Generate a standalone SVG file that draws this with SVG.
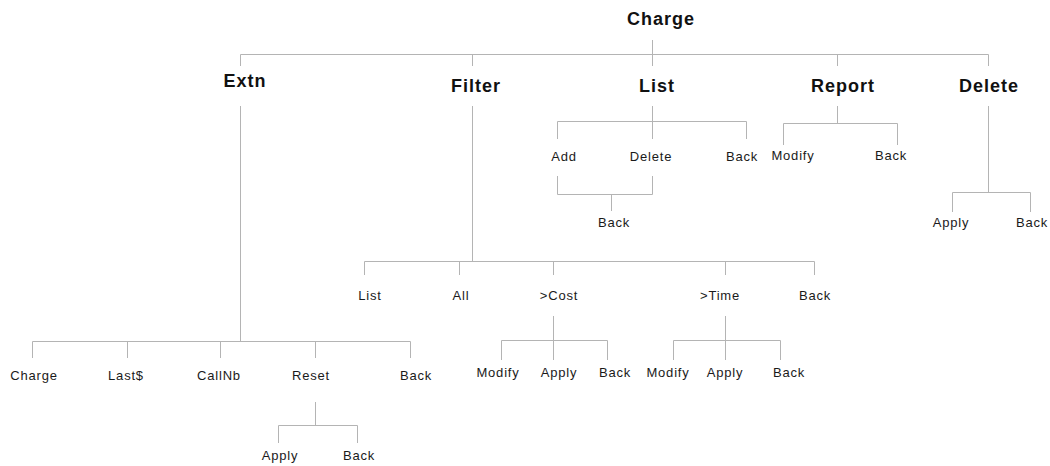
<svg xmlns="http://www.w3.org/2000/svg" width="1050" height="466" viewBox="0 0 1050 466">
  <style>
    .bg { fill: #ffffff; }
    .wire { stroke: #b4b4b4; stroke-width: 1; fill: none; }
    .head { font-family: "Liberation Sans", Arial, sans-serif; font-weight: bold; font-size: 18px; letter-spacing: 1px; fill: #111; text-anchor: middle; }
    .item { font-family: "Liberation Sans", Arial, sans-serif; font-size: 13px; letter-spacing: 0.8px; fill: #1a1a1a; text-anchor: middle; }
  </style>
  <rect class="bg" x="0" y="0" width="1050" height="466"/>

  <!-- connectors: menu tree -->
  <g id="connectors" class="wire">
    <!-- root -->
    <path d="M652.5 40 V54.5 M240.5 54.5 H988.5 M240.5 54.5 V66 M472.5 54.5 V66 M652.5 54.5 V66 M837.5 54.5 V66 M988.5 54.5 V66"/>
    <!-- Extn -->
    <path d="M240.5 106 V341.5 M32.5 341.5 H410.5 M32.5 341.5 V358 M127.5 341.5 V358 M220.5 341.5 V358 M315.5 341.5 V358 M410.5 341.5 V358"/>
    <!-- Reset -->
    <path d="M315.5 402 V425.5 M278.5 425.5 H357.5 M278.5 425.5 V443 M357.5 425.5 V443"/>
    <!-- Filter -->
    <path d="M472.5 106 V261.5 M364.5 261.5 H814.5 M364.5 261.5 V275 M459.5 261.5 V275 M553.5 261.5 V275 M725.5 261.5 V275 M814.5 261.5 V275"/>
    <!-- >Cost -->
    <path d="M553.5 316 V360 M501.5 340.5 H607.5 M501.5 340.5 V360 M607.5 340.5 V360"/>
    <!-- >Time -->
    <path d="M725.5 316 V360 M673.5 340.5 H780.5 M673.5 340.5 V360 M780.5 340.5 V360"/>
    <!-- List -->
    <path d="M652.5 106 V139 M557.5 121.5 H746.5 M557.5 121.5 V139 M746.5 121.5 V139"/>
    <path d="M557.5 176 V194.5 M652.5 176 V194.5 M557.5 194.5 H652.5 M611.5 194.5 V211"/>
    <!-- Report -->
    <path d="M837.5 106 V123.5 M783.5 123.5 H897.5 M783.5 123.5 V145 M897.5 123.5 V145"/>
    <!-- Delete -->
    <path d="M988.5 106 V192.5 M952.5 192.5 H1030.5 M952.5 192.5 V212 M1030.5 192.5 V212"/>
  </g>

  <!-- top level -->
  <g id="n-charge"><text class="head" x="661" y="25">Charge</text></g>
  <g id="n-extn"><text class="head" x="245" y="87">Extn</text></g>
  <g id="n-filter"><text class="head" x="476" y="92">Filter</text></g>
  <g id="n-list"><text class="head" x="657" y="92">List</text></g>
  <g id="n-report"><text class="head" x="843" y="92">Report</text></g>
  <g id="n-delete"><text class="head" x="989" y="92">Delete</text></g>

  <!-- Extn children -->
  <g id="n-extn-charge"><text class="item" x="34" y="380">Charge</text></g>
  <g id="n-extn-last"><text class="item" x="126" y="380">Last$</text></g>
  <g id="n-extn-callnb"><text class="item" x="219" y="380">CallNb</text></g>
  <g id="n-extn-reset"><text class="item" x="311" y="380">Reset</text></g>
  <g id="n-extn-back"><text class="item" x="416" y="380">Back</text></g>
  <g id="n-reset-apply"><text class="item" x="280" y="460">Apply</text></g>
  <g id="n-reset-back"><text class="item" x="359" y="460">Back</text></g>

  <!-- Filter children -->
  <g id="n-filter-list"><text class="item" x="370" y="300">List</text></g>
  <g id="n-filter-all"><text class="item" x="461" y="300">All</text></g>
  <g id="n-filter-cost"><text class="item" x="559" y="300">&gt;Cost</text></g>
  <g id="n-filter-time"><text class="item" x="720" y="300">&gt;Time</text></g>
  <g id="n-filter-back"><text class="item" x="815" y="300">Back</text></g>
  <g id="n-cost-modify"><text class="item" x="498" y="377">Modify</text></g>
  <g id="n-cost-apply"><text class="item" x="559" y="377">Apply</text></g>
  <g id="n-cost-back"><text class="item" x="615" y="377">Back</text></g>
  <g id="n-time-modify"><text class="item" x="668" y="377">Modify</text></g>
  <g id="n-time-apply"><text class="item" x="725" y="377">Apply</text></g>
  <g id="n-time-back"><text class="item" x="789" y="377">Back</text></g>

  <!-- List children -->
  <g id="n-list-add"><text class="item" x="564" y="161">Add</text></g>
  <g id="n-list-delete"><text class="item" x="651" y="161">Delete</text></g>
  <g id="n-list-back"><text class="item" x="742" y="161">Back</text></g>
  <g id="n-list-back2"><text class="item" x="614" y="227">Back</text></g>

  <!-- Report children -->
  <g id="n-report-modify"><text class="item" x="793" y="160">Modify</text></g>
  <g id="n-report-back"><text class="item" x="891" y="160">Back</text></g>

  <!-- Delete children -->
  <g id="n-delete-apply"><text class="item" x="951" y="227">Apply</text></g>
  <g id="n-delete-back"><text class="item" x="1032" y="227">Back</text></g>
</svg>
